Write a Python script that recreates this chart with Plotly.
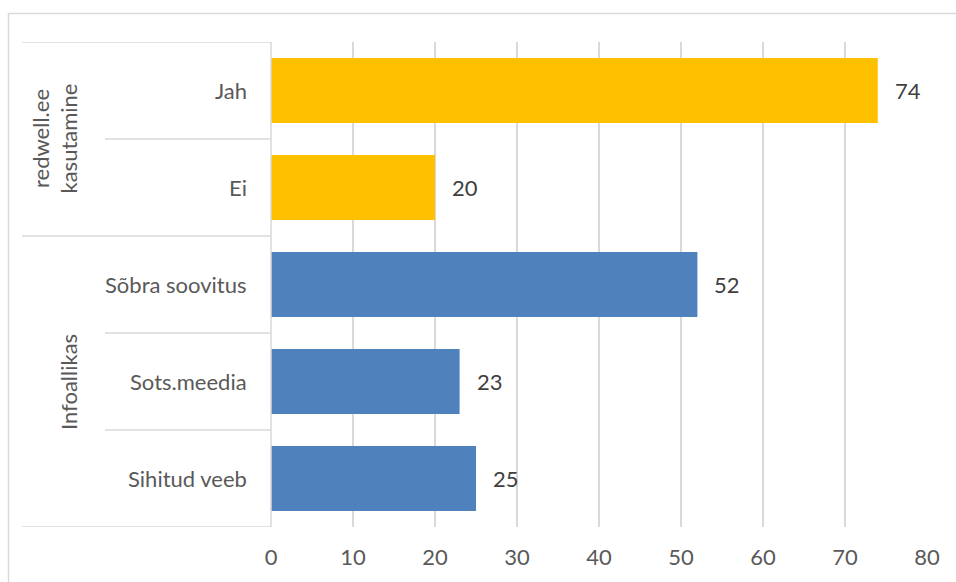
import plotly.graph_objects as go

# ---- data ----
categories = ["Jah", "Ei", "Sõbra soovitus", "Sots.meedia", "Sihitud veeb"]
groups = ["redwell.ee<br>kasutamine", "Infoallikas"]
group_members = [["Jah", "Ei"], ["Sõbra soovitus", "Sots.meedia", "Sihitud veeb"]]
values = [74, 20, 52, 23, 25]
bar_colors = ["#FFC000", "#FFC000", "#4F81BD", "#4F81BD", "#4F81BD"]
x_ticks = [0, 10, 20, 30, 40, 50, 60, 70, 80]

FONT = "Lato"
FS = 22
W, H = 956, 582
ML, MR, MT, MB = 271, 29, 42, 55
PW, PH = W - ML - MR, H - MT - MB
GRID = "#D9D9D9"


def px_to_xpaper(px):
    return (px - ML) / PW


def py_to_ypaper(py):
    return (H - MB - py) / PH


fig = go.Figure()
fig.add_trace(go.Bar(
    y=categories, x=values, orientation="h",
    marker=dict(color=bar_colors, line=dict(width=0)),
    hoverinfo="x+y", showlegend=False,
))

annotations = []
shapes = []

# data labels
for c, v in zip(categories, values):
    annotations.append(dict(x=v, y=c, xref="x", yref="y", text=str(v), showarrow=False,
                            xanchor="left", yanchor="middle", xshift=15,
                            font=dict(family=FONT, size=FS, color="#404040")))

# category labels
for c in categories:
    annotations.append(dict(x=0, y=c, xref="paper", yref="y", text=c, showarrow=False,
                            xanchor="right", yanchor="middle", xshift=-22,
                            font=dict(family=FONT, size=FS, color="#595959")))

# group labels and separators
n = len(categories)
start = 0
x_sub = px_to_xpaper(105)
x_grp = px_to_xpaper(22)
group_x = [54.5, 68.5]
for gi, (g, members) in enumerate(zip(groups, group_members)):
    k = len(members)
    center = start + (k - 1) / 2
    annotations.append(dict(x=px_to_xpaper(group_x[gi]), y=center, xref="paper", yref="y",
                            text=g, showarrow=False, textangle=-90,
                            xanchor="center", yanchor="middle",
                            font=dict(family=FONT, size=FS, color="#595959")))
    for j in range(1, k):
        yy = start + j - 0.5
        shapes.append(dict(type="line", xref="paper", yref="y", x0=x_sub, x1=0, y0=yy, y1=yy,
                           line=dict(color=GRID, width=1.5)))
    start += k

# group boundary lines
bounds = [-0.5]
acc = 0
for members in group_members:
    acc += len(members)
    bounds.append(acc - 0.5)
for b in bounds:
    shapes.append(dict(type="line", xref="paper", yref="y", x0=x_grp, x1=0, y0=b, y1=b,
                       line=dict(color=GRID, width=1.5)))

# category axis line
shapes.append(dict(type="line", xref="paper", yref="y", x0=0, x1=0, y0=-0.5, y1=n - 0.5,
                   line=dict(color=GRID, width=1.5)))

# chart border (extends past the right and bottom edges)
shapes.append(dict(type="rect", xref="paper", yref="paper",
                   x0=px_to_xpaper(8.5), x1=px_to_xpaper(990),
                   y0=py_to_ypaper(620), y1=py_to_ypaper(13.5),
                   line=dict(color=GRID, width=1.5), fillcolor="rgba(0,0,0,0)", layer="below"))

fig.update_layout(
    width=W, height=H,
    margin=dict(l=ML, r=MR, t=MT, b=MB, autoexpand=False),
    paper_bgcolor="white", plot_bgcolor="white",
    bargap=0.33,
    xaxis=dict(range=[0, 80], tickvals=x_ticks, showgrid=True, gridcolor=GRID, gridwidth=1.5,
               zeroline=False, showline=False, ticks="", ticklabelstandoff=15,
               tickfont=dict(family=FONT, size=FS, color="#595959"), fixedrange=True),
    yaxis=dict(range=[n - 0.5, -0.5], showticklabels=False, showgrid=False, zeroline=False,
               showline=False, ticks="", fixedrange=True),
    annotations=annotations, shapes=shapes,
    font=dict(family=FONT),
)

fig.write_html("out.html", config={"displayModeBar": False},
               post_script="document.body.style.margin='0';document.body.style.overflow='hidden';")
